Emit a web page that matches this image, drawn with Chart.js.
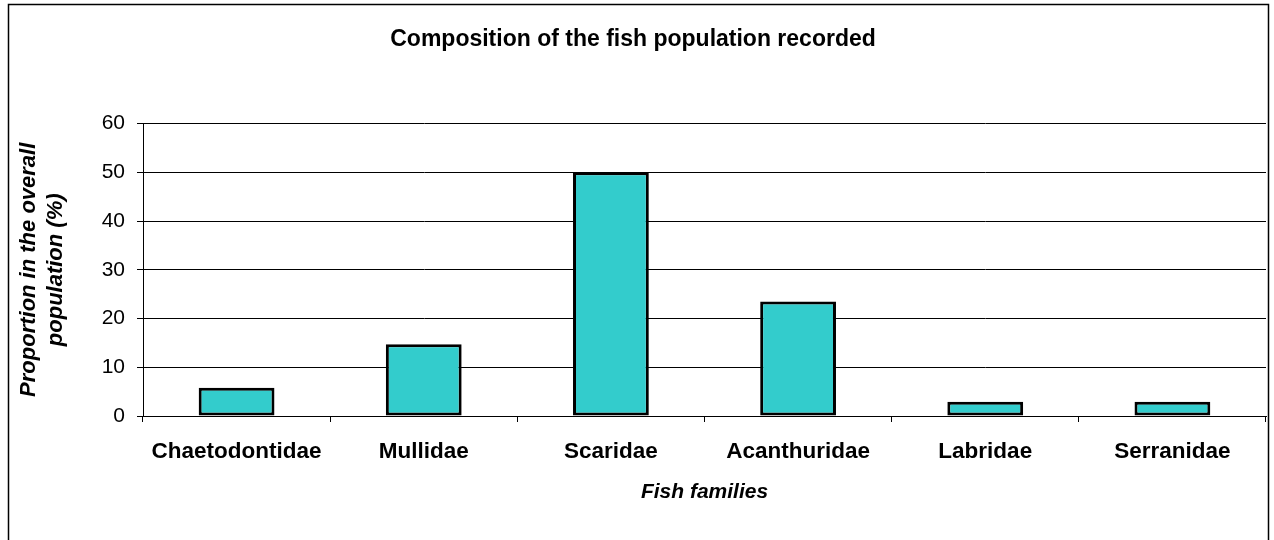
<!DOCTYPE html>
<html>
<head>
<meta charset="utf-8">
<script src="https://cdn.jsdelivr.net/npm/chart.js@4"></script>
<style>
  body { margin: 0; background: #fff; }
  canvas { display: block; }
</style>
</head>
<body>
<canvas id="fish-chart" width="1274" height="540"></canvas>
<script>
const families = ['Chaetodontidae', 'Mullidae', 'Scaridae', 'Acanthuridae', 'Labridae', 'Serranidae'];
const proportions = [5.8, 14.7, 50, 23.5, 2.9, 2.9];
const yTicks = [0, 10, 20, 30, 40, 50, 60];

const chartTitle = 'Composition of the fish population recorded';
const xTitle = 'Fish families';
const yTitle = ['Proportion in the overall', 'population (%)'];

Chart.defaults.font.family = '"Liberation Sans", Arial, sans-serif';
Chart.defaults.color = '#000';

// outer frame around the whole chart
const framePlugin = {
    id: 'frame',
    beforeDraw(chart) {
        const ctx = chart.ctx;
        ctx.save();
        ctx.fillStyle = '#fff';
        ctx.fillRect(0, 0, chart.width, chart.height);
        ctx.strokeStyle = '#000';
        ctx.lineWidth = 1.5;
        ctx.strokeRect(8.5, 4.5, 1260, 600);
        ctx.restore();
    }
};

const ctx = document.getElementById('fish-chart').getContext('2d');

new Chart(ctx, {
    type: 'bar',
    data: {
        labels: families,
        datasets: [{
            data: proportions,
            backgroundColor: '#33CCCC',
            borderColor: '#000',
            borderWidth: 3,
            borderSkipped: false,
            barPercentage: 0.405,
            categoryPercentage: 1
        }]
    },
    plugins: [framePlugin],
    options: {
        responsive: false,
        animation: false,
        layout: { padding: { top: 0, right: 8, bottom: 0, left: 0 } },
        plugins: {
            legend: { display: false },
            tooltip: { enabled: false },
            title: {
                display: true,
                text: chartTitle,
                font: { size: 23, weight: 'bold' },
                padding: { top: 26, bottom: 70 }
            }
        },
        scales: {
            x: {
                afterFit(scale) { scale.height = 124; },
                grid: {
                    offset: true,
                    drawOnChartArea: false,
                    drawTicks: true,
                    tickLength: 6,
                    color: '#000'
                },
                border: { color: '#000', width: 1 },
                ticks: {
                    font: { size: 22.5, weight: 'bold' },
                    padding: 16,
                    maxRotation: 0
                },
                title: {
                    display: true,
                    text: xTitle,
                    font: { size: 21, weight: 'bold', style: 'italic' },
                    padding: { top: 0, bottom: 35 }
                }
            },
            y: {
                min: 0,
                max: 60,
                afterFit(scale) { scale.width = 143; },
                afterBuildTicks(scale) {
                    scale.ticks = yTicks.map(v => ({ value: v }));
                },
                grid: {
                    color: '#000',
                    lineWidth: 1,
                    drawTicks: true,
                    tickLength: 6
                },
                border: { color: '#000', width: 1 },
                ticks: {
                    font: { size: 21 },
                    padding: 12
                },
                title: {
                    display: true,
                    text: yTitle,
                    font: { size: 22, weight: 'bold', style: 'italic' },
                    lineHeight: 1.45,
                    padding: { top: 16, bottom: 0 }
                }
            }
        }
    }
});
</script>
</body>
</html>
